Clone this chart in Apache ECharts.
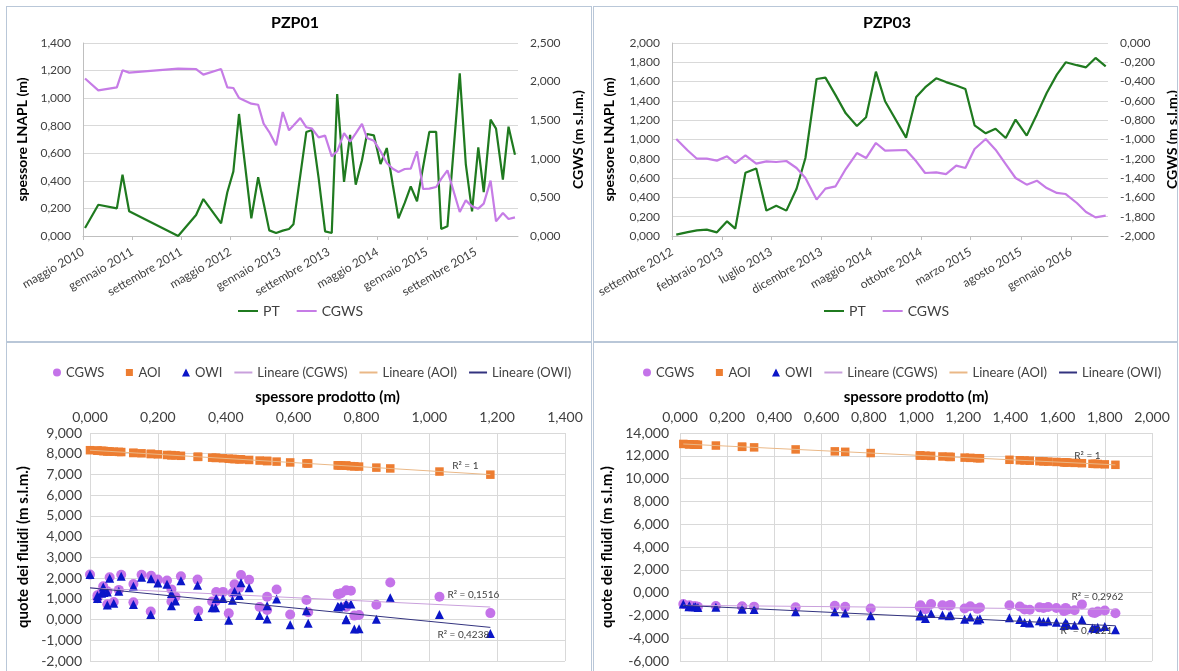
<!DOCTYPE html>
<html lang="it">
<head>
<meta charset="utf-8">
<title>PZP01 / PZP03</title>
<script src="https://cdn.jsdelivr.net/npm/echarts@6.0.0/dist/echarts.min.js"></script>
<style>
  html, body { margin: 0; padding: 0; background: #fff; }
  body { width: 1179px; height: 671px; position: relative; overflow: hidden; }
  .panel { position: absolute; box-sizing: border-box; border: 1px solid #b9c7d8; background: #fff; }
  .chart { position: absolute; left: 0; top: 0; }
</style>
</head>
<body>
<div class="panel" style="left:6px;top:6px;width:586px;height:336px"><div id="c1" class="chart" style="width:584px;height:334px"></div></div>
<div class="panel" style="left:593px;top:6px;width:585px;height:336px"><div id="c2" class="chart" style="width:583px;height:334px"></div></div>
<div class="panel" style="left:6px;top:342px;width:586px;height:340px"><div id="c3" class="chart" style="width:584px;height:338px"></div></div>
<div class="panel" style="left:593px;top:342px;width:585px;height:340px"><div id="c4" class="chart" style="width:583px;height:338px"></div></div>
<script>
// ---------------- PZP01 : monitoring series ----------------
const pzp01Dates = [
  '2010-05-11','2010-07-16','2010-10-16','2010-11-13','2010-12-16',
  '2011-08-16','2011-11-13','2011-12-19','2012-03-16','2012-04-16',
  '2012-05-16','2012-06-13','2012-08-13','2012-09-16','2012-10-13',
  '2012-11-10','2012-12-14','2013-01-16','2013-02-16','2013-03-10',
  '2013-04-13','2013-05-13','2013-06-10','2013-07-13','2013-08-14',
  '2013-09-16','2013-10-13','2013-11-16','2013-12-16','2014-01-13',
  '2014-02-13','2014-03-10','2014-04-13','2014-05-16','2014-06-16',
  '2014-07-16','2014-08-13','2014-09-13','2014-10-13','2014-11-13',
  '2014-12-13','2015-01-13','2015-02-16','2015-03-13','2015-04-13',
  '2015-06-13','2015-07-13','2015-08-13','2015-09-13','2015-10-10',
  '2015-11-13','2015-12-10','2016-01-13','2016-02-10','2016-03-13'
];
// spessore prodotto (PT), m
const pzp01PT = [
  0.058, 0.227, 0.200, 0.445, 0.180,
  0.000, 0.152, 0.268, 0.092, 0.317,
  0.469, 0.885, 0.128, 0.426, 0.240,
  0.041, 0.022, 0.039, 0.051, 0.085,
  0.440, 0.755, 0.769, 0.420, 0.034,
  0.022, 1.030, 0.392, 0.733, 0.372,
  0.550, 0.740, 0.730, 0.522, 0.638,
  0.370, 0.128, 0.240, 0.360, 0.252,
  0.500, 0.755, 0.755, 0.051, 0.070,
  1.180, 0.522, 0.179, 0.643, 0.319,
  0.844, 0.779, 0.409, 0.793, 0.590
];
// CGWS, m s.l.m.
const pzp01CGWS = [
  2.040, 1.887, 1.926, 2.146, 2.116,
  2.168, 2.163, 2.090, 2.163, 1.926,
  1.917, 1.788, 1.714, 1.700, 1.455,
  1.347, 1.174, 1.606, 1.369, 1.430,
  1.528, 1.408, 1.390, 1.278, 1.300,
  1.032, 1.097, 1.334, 1.222, 1.330,
  1.451, 1.269, 1.235, 1.097, 0.946,
  0.872, 0.829, 0.868, 0.872, 1.097,
  0.609, 0.613, 0.635, 0.740, 0.850,
  0.311, 0.462, 0.384, 0.354, 0.419,
  0.717, 0.190, 0.298, 0.220, 0.242
];
// AOI, m s.l.m.
const pzp01AOI = [
  8.11, 7.94, 7.97, 7.73, 7.99,
  8.17, 8.02, 7.90, 8.08, 7.85,
  7.70, 7.29, 8.04, 7.74, 7.93,
  8.13, 8.15, 8.13, 8.12, 8.09,
  7.73, 7.42, 7.40, 7.75, 8.14,
  8.15, 7.14, 7.78, 7.44, 7.80,
  7.62, 7.43, 7.44, 7.65, 7.53,
  7.80, 8.04, 7.93, 7.81, 7.92,
  7.67, 7.42, 7.42, 8.12, 8.10,
  6.99, 7.65, 7.99, 7.53, 7.85,
  7.33, 7.39, 7.76, 7.38, 7.58
];
// OWI, m s.l.m.
const pzp01OWI = [
  1.99, 1.70, 1.76, 1.78, 1.97,
  2.17, 2.04, 1.87, 2.09, 1.66,
  1.53, 1.05, 1.61, 1.35, 1.26,
  1.31, 1.16, 1.57, 1.33, 1.36,
  1.16, 0.78, 0.75, 0.93, 1.27,
  1.01, 0.24, 1.01, 0.61, 1.02,
  0.99, 0.66, 0.63, 0.66, 0.42,
  0.57, 0.72, 0.67, 0.57, 0.89,
  0.19, -0.01, 0.01, 0.70, 0.79,
  -0.67, 0.03, 0.24, -0.18, 0.15,
  0.02, -0.46, -0.04, -0.44, -0.25
];
const pzp01TickDates = ['2010-05-01','2011-01-01','2011-09-01','2012-05-01','2013-01-01','2013-09-01','2014-05-01','2015-01-01','2015-09-01'];
const pzp01TickLabels = ['maggio 2010','gennaio 2011','settembre 2011','maggio 2012','gennaio 2013','settembre 2013','maggio 2014','gennaio 2015','settembre 2015'];
const pzp01R2 = ['R² = 0,1516', 'R² = 1', 'R² = 0,4238'];

// ---------------- PZP03 : monitoring series ----------------
const pzp03Dates = [
  '2012-09-14','2012-10-19','2012-11-16','2012-12-16','2013-01-16',
  '2013-02-16','2013-03-13','2013-04-13','2013-05-16','2013-06-16',
  '2013-07-16','2013-08-16','2013-09-16','2013-10-13','2013-11-16',
  '2013-12-13','2014-01-13','2014-02-13','2014-03-19','2014-04-16',
  '2014-05-16','2014-06-13','2014-08-16','2014-09-16','2014-10-13',
  '2014-11-16','2014-12-16','2015-01-16','2015-02-13','2015-03-13',
  '2015-04-16','2015-05-16','2015-06-16','2015-07-16','2015-08-19',
  '2015-09-19','2015-10-19','2015-11-19','2015-12-16','2016-01-19',
  '2016-02-16','2016-03-16','2016-04-16'
];
const pzp03PT = [
  0.014, 0.040, 0.059, 0.066, 0.038,
  0.152, 0.076, 0.656, 0.700, 0.263,
  0.314, 0.263, 0.490, 0.808, 1.627,
  1.641, 1.460, 1.271, 1.140, 1.230,
  1.703, 1.396, 1.019, 1.440, 1.540,
  1.634, 1.595, 1.560, 1.523, 1.147,
  1.064, 1.112, 1.016, 1.206, 1.040,
  1.260, 1.482, 1.672, 1.800, 1.770,
  1.748, 1.845, 1.758
];
const pzp03CGWS = [
  -0.995, -1.114, -1.199, -1.199, -1.219,
  -1.174, -1.244, -1.164, -1.250, -1.226,
  -1.233, -1.223, -1.295, -1.399, -1.623,
  -1.509, -1.485, -1.306, -1.140, -1.192,
  -1.036, -1.116, -1.109, -1.226, -1.347,
  -1.340, -1.358, -1.271, -1.295, -1.098,
  -0.995, -1.105, -1.254, -1.399, -1.468,
  -1.427, -1.503, -1.554, -1.565, -1.658,
  -1.751, -1.807, -1.789
];
const pzp03AOI = [
  13.04, 13.01, 12.99, 12.98, 13.01,
  12.90, 12.97, 12.39, 12.35, 12.79,
  12.74, 12.79, 12.56, 12.24, 11.42,
  11.41, 11.59, 11.78, 11.91, 11.82,
  11.35, 11.65, 12.03, 11.61, 11.51,
  11.42, 11.46, 11.49, 11.53, 11.90,
  11.99, 11.94, 12.03, 11.84, 12.01,
  11.79, 11.57, 11.38, 11.25, 11.28,
  11.30, 11.21, 11.29
];
const pzp03OWI = [
  -1.01, -1.15, -1.25, -1.25, -1.25,
  -1.29, -1.30, -1.68, -1.80, -1.43,
  -1.48, -1.43, -1.68, -2.03, -2.89,
  -2.79, -2.62, -2.30, -2.03, -2.15,
  -2.36, -2.21, -1.90, -2.35, -2.55,
  -2.62, -2.60, -2.49, -2.48, -1.99,
  -1.83, -1.97, -2.05, -2.34, -2.28,
  -2.41, -2.66, -2.86, -2.97, -3.04,
  -3.11, -3.25, -3.16
];
const pzp03TickDates = ['2012-09-01','2013-02-01','2013-07-01','2013-12-01','2014-05-01','2014-10-01','2015-03-01','2015-08-01','2016-01-01'];
const pzp03TickLabels = ['settembre 2012','febbraio 2013','luglio 2013','dicembre 2013','maggio 2014','ottobre 2014','marzo 2015','agosto 2015','gennaio 2016'];
const pzp03R2 = ['R² = 0,2962', 'R² = 1', 'R² = 0,9221'];

// ---------------- shared styling ----------------
const FONT = 'Lato, "Liberation Sans", sans-serif';
const TXT = '#404040';
const GRIDLINE = '#d9d9d9';
const AXISLINE = '#bfbfbf';
const C_PT = '#1f7a1f';
const C_CGWS_LINE = '#c67ce6';
const C_CGWS = '#c473e9';
const C_AOI = '#ed7d31';
const C_OWI = '#0b16c8';
const C_FIT_CGWS = '#c9a0dc';
const C_FIT_AOI = '#eab887';
const C_FIT_OWI = '#33337f';

// legend markers sit at the right end of an 18x8 icon box (tiny corner specks fix the box size)
const BOX = ' M0,0 L0.01,0 L0,0.01 Z M18,8 L17.99,8 L18,7.99 Z';
const ICON_CIRCLE = 'path://M10,4 A4,4 0 1,0 18,4 A4,4 0 1,0 10,4 Z' + BOX;
const ICON_SQUARE = 'path://M10.5,0.5 L17.5,0.5 L17.5,7.5 L10.5,7.5 Z' + BOX;
const ICON_TRIANGLE = 'path://M14,0 L18,8 L10,8 Z' + BOX;

// Italian number style: three decimals with a comma
const fmt3 = v => (Math.abs(v) < 1e-9 ? 0 : v).toFixed(3).replace('.', ',');
const dayOf = (s, base) => (Date.parse(s) - Date.parse(base)) / 864e5;

function linearFit(xs, ys) {
  const n = xs.length;
  let sx = 0, sy = 0, sxx = 0, sxy = 0;
  for (let i = 0; i < n; i++) { sx += xs[i]; sy += ys[i]; sxx += xs[i] * xs[i]; sxy += xs[i] * ys[i]; }
  const b = (n * sxy - sx * sy) / (n * sxx - sx * sx);
  const a = (sy - b * sx) / n;
  const lo = Math.min(...xs), hi = Math.max(...xs);
  return [[lo, a + b * lo], [hi, a + b * hi]];
}

// time chart: PT (left axis) and CGWS (right axis)
function timeOption(o) {
  const xs = o.dates.map(d => dayOf(d, o.axisStart));
  const ticks = o.tickDates.map(d => dayOf(d, o.axisStart));
  const tickLabel = v => {
    const i = ticks.findIndex(t => Math.abs(t - v) < 0.5);
    return i < 0 ? '' : o.tickLabels[i];
  };
  return {
    animation: false,
    textStyle: { fontFamily: FONT },
    title: {
      text: o.title, left: o.titleX, top: 8, padding: 0, textAlign: 'center',
      textStyle: { fontSize: 16, fontWeight: 'bold', color: '#000', fontFamily: FONT }
    },
    legend: {
      data: [
        { name: 'PT', itemStyle: { opacity: 0 } },
        { name: 'CGWS', itemStyle: { opacity: 0 } }
      ],
      left: o.legendX, top: 297, padding: 0,
      itemWidth: 20, itemHeight: 10, itemGap: 16,
      textStyle: { fontSize: 14, color: TXT, fontFamily: FONT }
    },
    grid: { left: o.gridLeft, top: 36, width: o.gridWidth, height: 193, outerBoundsMode: 'none' },
    xAxis: {
      type: 'value', min: 0, max: dayOf(o.axisEnd, o.axisStart),
      axisLine: { show: true, lineStyle: { color: AXISLINE } },
      axisTick: { show: true, customValues: ticks, length: 4, lineStyle: { color: AXISLINE } },
      axisLabel: { customValues: ticks, formatter: tickLabel, rotate: 30, fontSize: 12, color: TXT, margin: 15, fontFamily: FONT },
      splitLine: { show: false }
    },
    yAxis: [
      {
        type: 'value', min: 0, max: o.leftMax, interval: 0.2,
        name: 'spessore LNAPL (m)', nameLocation: 'middle', nameGap: o.leftNameGap,
        nameTextStyle: { fontSize: 14, fontWeight: 'bold', color: '#000', fontFamily: FONT },
        axisLine: { show: true, lineStyle: { color: AXISLINE } },
        axisTick: { show: false },
        axisLabel: { formatter: fmt3, fontSize: 12, color: TXT, margin: 12, fontFamily: FONT },
        splitLine: { show: true, lineStyle: { color: GRIDLINE } }
      },
      {
        type: 'value', position: 'right', min: o.rightMin, max: o.rightMax, interval: o.rightInterval,
        name: 'CGWS (m s.l.m.)', nameLocation: 'middle', nameGap: 52,
        nameTextStyle: { fontSize: 14, fontWeight: 'bold', color: '#000', fontFamily: FONT },
        axisLine: { show: false }, axisTick: { show: false },
        axisLabel: { formatter: fmt3, fontSize: 12, color: TXT, margin: 12, fontFamily: FONT },
        splitLine: { show: false }
      }
    ],
    series: [
      {
        name: 'PT', type: 'line', yAxisIndex: 0, symbol: 'none', connectNulls: true,
        data: xs.map((x, i) => [x, o.pt[i]]),
        lineStyle: { width: 2.2, color: C_PT }, itemStyle: { color: C_PT }
      },
      {
        name: 'CGWS', type: 'line', yAxisIndex: 1, symbol: 'none', connectNulls: true,
        data: xs.map((x, i) => [x, o.cgws[i]]),
        lineStyle: { width: 2.2, color: C_CGWS_LINE }, itemStyle: { color: C_CGWS_LINE }
      }
    ]
  };
}

// scatter chart: fluid levels against product thickness, with linear trends
function scatterOption(o) {
  const pairs = ys => o.pt.map((x, i) => [x, ys[i]]);
  const fitCGWS = linearFit(o.pt, o.cgws);
  const fitAOI = linearFit(o.pt, o.aoi);
  const fitOWI = linearFit(o.pt, o.owi);
  const r2Mark = (end, text, offset) => ({
    silent: true, symbol: 'circle', symbolSize: 1, itemStyle: { color: 'rgba(0,0,0,0)' },
    label: { show: true, position: 'inside', formatter: text, offset: offset, color: TXT, fontSize: 10, fontFamily: FONT },
    data: [{ coord: end }]
  });
  const fitLine = (name, data, color, text, offset) => ({
    name, type: 'line', symbol: 'none', data, silent: true,
    lineStyle: { width: 1, color }, itemStyle: { color },
    markPoint: r2Mark(data[1], text, offset)
  });
  return {
    animation: false,
    textStyle: { fontFamily: FONT },
    legend: {
      data: [
        { name: 'CGWS', icon: ICON_CIRCLE },
        { name: 'AOI', icon: ICON_SQUARE },
        { name: 'OWI', icon: ICON_TRIANGLE },
        { name: 'Lineare (CGWS)', itemStyle: { opacity: 0 } },
        { name: 'Lineare (AOI)', itemStyle: { opacity: 0 } },
        { name: 'Lineare (OWI)', itemStyle: { opacity: 0 } }
      ],
      left: o.legendX, top: 23, padding: 0, itemWidth: 18, itemHeight: 8, itemGap: 11,
      textStyle: { fontSize: 13, color: TXT, fontFamily: FONT }
    },
    grid: { left: o.gridLeft, top: 90, width: o.gridWidth, height: 228, outerBoundsMode: 'none' },
    xAxis: {
      type: 'value', position: 'top', min: 0, max: o.xMax, interval: 0.2,
      name: 'spessore prodotto (m)', nameLocation: 'middle', nameGap: 28,
      nameTextStyle: { fontSize: 15, fontWeight: 'bold', color: '#000', fontFamily: FONT },
      axisLine: { show: false }, axisTick: { show: false },
      axisLabel: { formatter: fmt3, fontSize: 14, color: TXT, margin: 9, fontFamily: FONT },
      splitLine: { show: true, lineStyle: { color: GRIDLINE } }
    },
    yAxis: {
      type: 'value', min: o.yMin, max: o.yMax, interval: o.yInterval,
      name: 'quote dei fluidi (m s.l.m.)', nameLocation: 'middle', nameGap: 50,
      nameTextStyle: { fontSize: 15, fontWeight: 'bold', color: '#000', fontFamily: FONT },
      axisLine: { show: false }, axisTick: { show: false },
      axisLabel: { formatter: fmt3, fontSize: 14, color: TXT, margin: o.yLabelMargin, fontFamily: FONT },
      splitLine: { show: true, lineStyle: { color: GRIDLINE } }
    },
    series: [
      { name: 'CGWS', type: 'scatter', symbol: 'circle', symbolSize: 10, data: pairs(o.cgws), itemStyle: { color: C_CGWS, opacity: 1 } },
      { name: 'AOI', type: 'scatter', symbol: 'rect', symbolSize: 8.5, data: pairs(o.aoi), itemStyle: { color: C_AOI, opacity: 1 } },
      { name: 'OWI', type: 'scatter', symbol: 'triangle', symbolSize: 9, data: pairs(o.owi), itemStyle: { color: C_OWI, opacity: 1 } },
      fitLine('Lineare (CGWS)', fitCGWS, C_FIT_CGWS, o.r2[0], o.r2Offsets[0]),
      fitLine('Lineare (AOI)', fitAOI, C_FIT_AOI, o.r2[1], o.r2Offsets[1]),
      fitLine('Lineare (OWI)', fitOWI, C_FIT_OWI, o.r2[2], o.r2Offsets[2])
    ]
  };
}

echarts.init(document.getElementById('c1')).setOption(timeOption({
  title: 'PZP01', titleX: 288, legendX: 230,
  dates: pzp01Dates, pt: pzp01PT, cgws: pzp01CGWS,
  axisStart: '2010-05-01', axisEnd: '2016-03-28',
  tickDates: pzp01TickDates, tickLabels: pzp01TickLabels,
  gridLeft: 76, gridWidth: 435, leftMax: 1.4, leftNameGap: 46,
  rightMin: 0, rightMax: 2.5, rightInterval: 0.5
}));

echarts.init(document.getElementById('c2')).setOption(timeOption({
  title: 'PZP03', titleX: 293, legendX: 229,
  dates: pzp03Dates, pt: pzp03PT, cgws: pzp03CGWS,
  axisStart: '2012-09-01', axisEnd: '2016-04-23',
  tickDates: pzp03TickDates, tickLabels: pzp03TickLabels,
  gridLeft: 78, gridWidth: 436, leftMax: 2.0, leftNameGap: 56,
  rightMin: -2.0, rightMax: 0, rightInterval: 0.2
}));

echarts.init(document.getElementById('c3')).setOption(scatterOption({
  pt: pzp01PT, cgws: pzp01CGWS, aoi: pzp01AOI, owi: pzp01OWI, r2: pzp01R2,
  r2Offsets: [[-17, -12], [-25, -9], [-27, 7]],
  legendX: 36, gridLeft: 83, gridWidth: 475, yLabelMargin: 8,
  xMax: 1.4, yMin: -2, yMax: 9, yInterval: 1
}));

echarts.init(document.getElementById('c4')).setOption(scatterOption({
  pt: pzp03PT, cgws: pzp03CGWS, aoi: pzp03AOI, owi: pzp03OWI, r2: pzp03R2,
  r2Offsets: [[-18, -13], [-28, -9], [-29, 5]],
  legendX: 39, gridLeft: 86, gridWidth: 472, yLabelMargin: 11,
  xMax: 2.0, yMin: -6, yMax: 14, yInterval: 2
}));
</script>
</body>
</html>
